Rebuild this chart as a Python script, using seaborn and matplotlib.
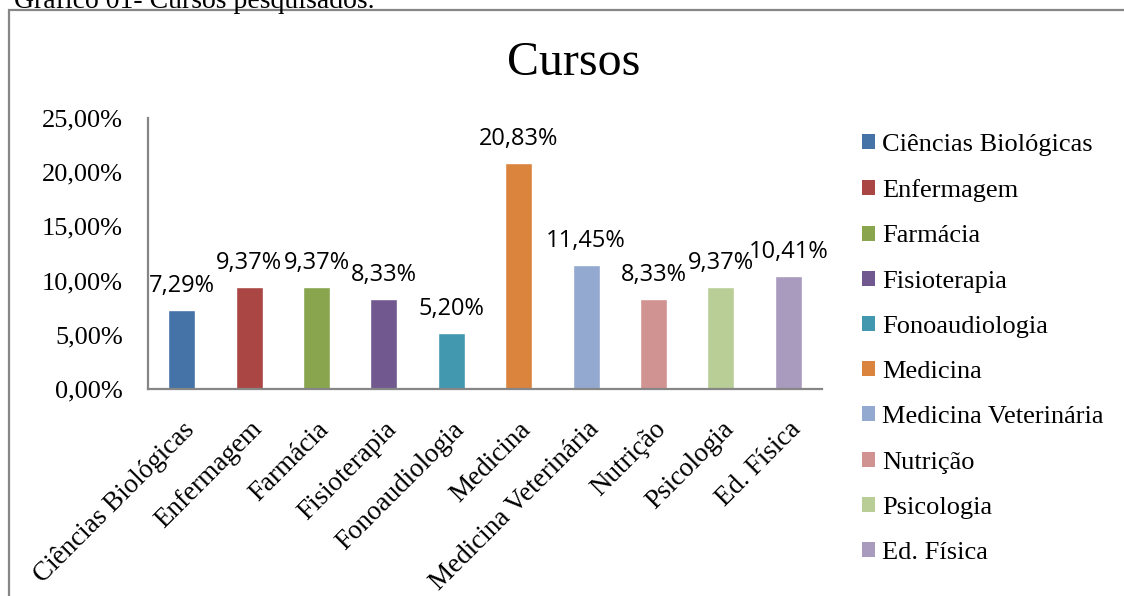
import seaborn as sns
import matplotlib.pyplot as plt
from matplotlib.patches import Patch, Rectangle

sns.set_theme(style="white")
plt.rcParams['font.family'] = ['Liberation Serif', 'DejaVu Serif']
plt.rcParams['text.color'] = 'black'
plt.rcParams['xtick.color'] = 'black'
plt.rcParams['ytick.color'] = 'black'

# data
cursos = ['Ciências Biológicas', 'Enfermagem', 'Farmácia', 'Fisioterapia',
          'Fonoaudiologia', 'Medicina', 'Medicina Veterinária', 'Nutrição',
          'Psicologia', 'Ed. Física']
percentuais = [7.29, 9.37, 9.37, 8.33, 5.20, 20.83, 11.45, 8.33, 9.37, 10.41]
cores = ['#4572A7', '#AA4643', '#89A54E', '#71588F', '#4198AF',
         '#DB843D', '#93A9CF', '#D19392', '#B9CD96', '#A99BBD']
yticks = [0, 5, 10, 15, 20, 25]

def pct(v):
    return f"{v:.2f}%".replace('.', ',')

fig = plt.figure(figsize=(11.24, 5.96), dpi=100)
ax = fig.add_axes([148/1124, 1-389/596, 674/1124, 271/596])

sns.barplot(x=cursos, y=percentuais, hue=cursos, palette=cores, width=0.4,
            legend=False, ax=ax, saturation=1)

ax.set_ylim(0, 25)
ax.set_xlim(-0.5, len(cursos)-0.5)
ax.set_yticks(yticks)
ax.set_yticklabels([pct(v) for v in yticks], fontsize=19)
ax.set_xticks(range(len(cursos)))
ax.set_xticklabels(cursos, rotation=45, ha='right', rotation_mode='anchor', fontsize=19.5)
ax.tick_params(axis='y', length=0, pad=18)
ax.tick_params(axis='x', length=0, pad=20)
ax.set_xlabel('')
ax.set_ylabel('')
for s in ['top', 'right']:
    ax.spines[s].set_visible(False)
for s in ['left', 'bottom']:
    ax.spines[s].set_color('#868686')
    ax.spines[s].set_linewidth(1.6)

# rótulos dos dados
for i, v in enumerate(percentuais):
    ax.annotate(pct(v), (i, v), xytext=(0, 13), textcoords='offset points',
                ha='center', va='baseline', fontsize=17,
                family=['Open Sans', 'DejaVu Sans'], color='black',
                annotation_clip=False)

# legenda
handles = [Patch(facecolor=c, edgecolor='none') for c in cores]
fig.legend(handles, cursos, loc='upper left', bbox_to_anchor=(862/1124, 1-134/596),
           frameon=False, fontsize=19, handlelength=0.5, handleheight=0.5,
           handletextpad=0.25, labelspacing=0.88, borderpad=0, borderaxespad=0)

fig.text(574/1124, 1-75/596, 'Cursos', ha='center', va='baseline', fontsize=34.5)
fig.text(14/1124, 1-8/596, 'Gráfico 01- Cursos pesquisados.', ha='left',
         va='baseline', fontsize=20)

# moldura do gráfico
fig.patches.append(Rectangle((9/1124, -0.1), 1.2, 1-10/596+0.1,
                             transform=fig.transFigure, fill=False,
                             edgecolor='#868686', linewidth=1.6))

fig.savefig('out.png', dpi=100)
